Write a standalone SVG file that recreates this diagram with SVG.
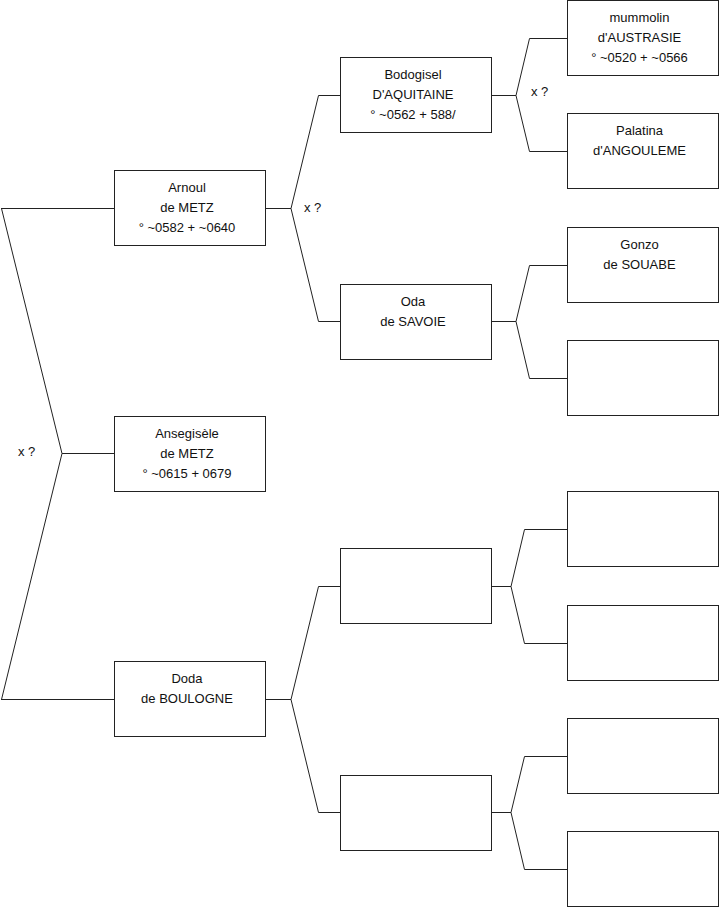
<svg xmlns="http://www.w3.org/2000/svg" width="719" height="908" viewBox="0 0 719 908">
<style>
.box{fill:#fff;stroke:#222;stroke-width:1}
.c{fill:none;stroke:#222;stroke-width:1}
text{font-family:"Liberation Sans",Arial,sans-serif;font-size:13px;fill:#111}
.t{text-anchor:middle}
</style>
<rect width="719" height="908" fill="#fff"/>
<g id="connectors">
<path class="c" d="M1 208.5H114.5M1 699.5H114.5M1.5 208.5L62 453.5L1.5 699.5M62 453.5H114.5"/>
<path class="c" d="M265.5 208.5H291L318.5 95.5H340.5M291 208.5L318.5 321.5H340.5"/>
<path class="c" d="M265.5 699.5H291L318.5 586.5H340.5M291 699.5L318.5 812.5H340.5"/>
<path class="c" d="M491.5 95.5H516L529.5 38.5H567.5M516 95.5L529.5 151.5H567.5"/>
<path class="c" d="M491.5 321.5H516L529.5 265.5H567.5M516 321.5L529.5 378.5H567.5"/>
<path class="c" d="M491.5 586.5H511L524.5 529.5H567.5M511 586.5L524.5 643.5H567.5"/>
<path class="c" d="M491.5 812.5H511L524.5 756.5H567.5M511 812.5L524.5 869.5H567.5"/>
<text x="18" y="456">x ?</text>
<text x="304" y="212">x ?</text>
<text x="531" y="96">x ?</text>
</g>
<g id="arnoul"><rect class="box" x="114.5" y="170.5" width="151" height="75"/>
<text class="t" x="187" y="191.5">Arnoul</text><text class="t" x="187" y="211.5">de METZ</text><text class="t" x="187" y="231.5">° ~0582 + ~0640</text></g>
<g id="ansegisele"><rect class="box" x="114.5" y="416.5" width="151" height="75"/>
<text class="t" x="187" y="437.5">Ansegisèle</text><text class="t" x="187" y="457.5">de METZ</text><text class="t" x="187" y="477.5">° ~0615 + 0679</text></g>
<g id="doda"><rect class="box" x="114.5" y="661.5" width="151" height="75"/>
<text class="t" x="187" y="682.5">Doda</text><text class="t" x="187" y="702.5">de BOULOGNE</text></g>
<g id="bodogisel"><rect class="box" x="340.5" y="57.5" width="151" height="75"/>
<text class="t" x="413" y="78.5">Bodogisel</text><text class="t" x="413" y="98.5">D'AQUITAINE</text><text class="t" x="413" y="118.5">° ~0562 + 588/</text></g>
<g id="oda"><rect class="box" x="340.5" y="284.5" width="151" height="75"/>
<text class="t" x="413" y="305.5">Oda</text><text class="t" x="413" y="325.5">de SAVOIE</text></g>
<g id="l2c"><rect class="box" x="340.5" y="548.5" width="151" height="75"/></g>
<g id="l2d"><rect class="box" x="340.5" y="775.5" width="151" height="75"/></g>
<g id="mummolin"><rect class="box" x="567.5" y="0.5" width="151" height="75"/>
<text class="t" x="639.5" y="21.5">mummolin</text><text class="t" x="639.5" y="41.5">d'AUSTRASIE</text><text class="t" x="639.5" y="61.5">° ~0520 + ~0566</text></g>
<g id="palatina"><rect class="box" x="567.5" y="113.5" width="151" height="75"/>
<text class="t" x="639.5" y="134.5">Palatina</text><text class="t" x="639.5" y="154.5">d'ANGOULEME</text></g>
<g id="gonzo"><rect class="box" x="567.5" y="227.5" width="151" height="75"/>
<text class="t" x="639.5" y="248.5">Gonzo</text><text class="t" x="639.5" y="268.5">de SOUABE</text></g>
<g id="l3d"><rect class="box" x="567.5" y="340.5" width="151" height="75"/></g>
<g id="l3e"><rect class="box" x="567.5" y="491.5" width="151" height="75"/></g>
<g id="l3f"><rect class="box" x="567.5" y="605.5" width="151" height="75"/></g>
<g id="l3g"><rect class="box" x="567.5" y="718.5" width="151" height="75"/></g>
<g id="l3h"><rect class="box" x="567.5" y="831.5" width="151" height="75"/></g>
</svg>
